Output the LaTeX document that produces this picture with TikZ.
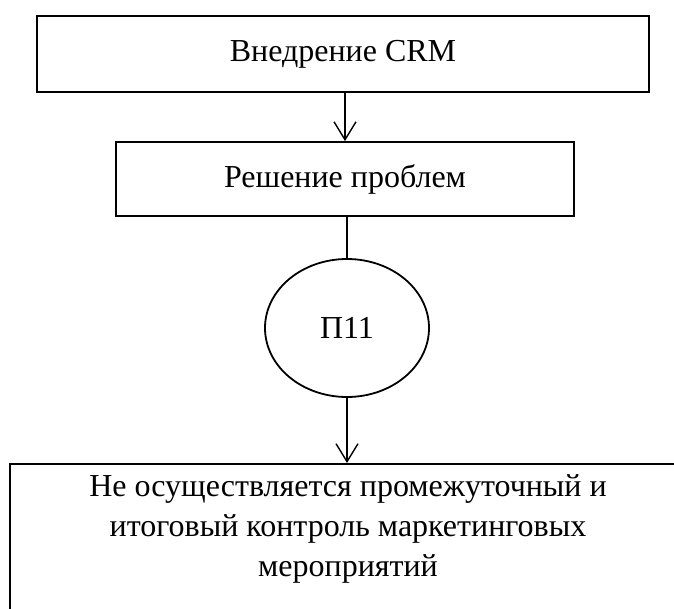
\documentclass[tikz,border=0pt]{standalone}
\usepackage{fontspec}
\setmainfont{Liberation Serif}
\usetikzlibrary{arrows.meta,shapes.geometric}
\begin{document}
\begin{tikzpicture}[x=1pt,y=-1pt,
  box/.style={draw,line width=1.8pt,rectangle,inner sep=0pt,align=center},
  oval/.style={draw,line width=1.8pt,ellipse,inner sep=0pt},
  link/.style={line width=1.4pt,-{Straight Barb[length=18pt,width=22pt,line width=1.4pt]}},
  plain/.style={line width=1.4pt},
  every node/.style={font=\fontsize{32}{40}\selectfont}]
\useasboundingbox (0,0) rectangle (674,608);
\clip (0,0) rectangle (674,608);
% Flow of the blocks, top to bottom
\node[box,minimum width=612pt,minimum height=76pt] (crm) at (343,54) {Внедрение CRM};
\node[box,minimum width=458pt,minimum height=74pt] (solve) at (345,179) {Решение проблем};
\node[oval,minimum width=164pt,minimum height=138pt] (p11) at (347,328) {П11};
\node[box,minimum width=674pt,minimum height=180pt,anchor=north] (res) at (347,463) {};
\node[align=center,anchor=north] (restext) at (348,471)
  {Не осуществляется промежуточный и\\итоговый контроль маркетинговых\\мероприятий};
% Connectors
\draw[link] (crm.south -| solve.north) -- (solve.north);
\draw[plain] (solve.south -| p11.north) -- (p11.north);
\draw[link] (p11.south) -- (res.north);
\end{tikzpicture}
\end{document}
